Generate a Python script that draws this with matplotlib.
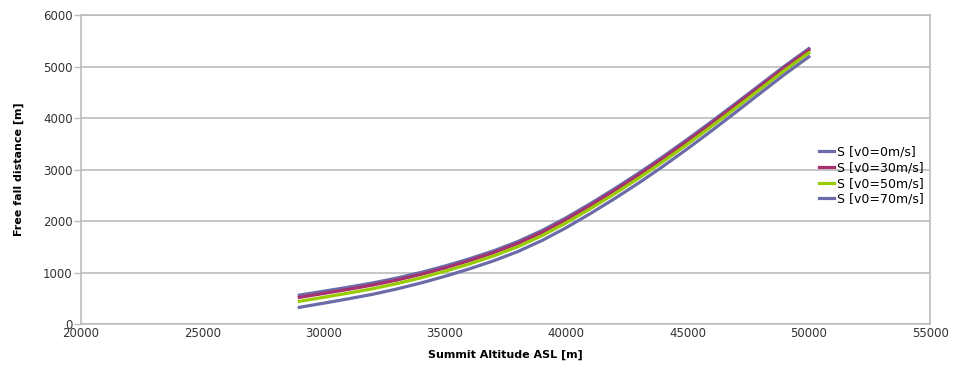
import numpy as np
import matplotlib.pyplot as plt

# summit altitude [m]
altitude = [29000, 30000, 31000, 32000, 33000, 34000, 35000, 36000, 37000, 38000, 39000,
            40000, 41000, 42000, 43000, 44000, 45000, 46000, 47000, 48000, 49000, 50000]

# free fall distance [m] for each initial velocity
s_v0_0 = [561, 636, 713, 795, 890, 1000, 1125, 1265, 1420, 1600, 1815,
          2065, 2340, 2630, 2935, 3255, 3590, 3935, 4290, 4650, 5010, 5350]
s_v0_30 = [517, 593, 671, 755, 851, 962, 1088, 1229, 1384, 1564, 1779,
           2029, 2304, 2594, 2900, 3220, 3556, 3902, 4258, 4619, 4980, 5321]
s_v0_50 = [440, 518, 598, 683, 782, 895, 1024, 1165, 1321, 1501, 1716,
           1966, 2241, 2532, 2837, 3159, 3496, 3844, 4202, 4565, 4927, 5268]
s_v0_70 = [323, 404, 487, 575, 678, 795, 926, 1069, 1226, 1406, 1621,
           1871, 2146, 2437, 2743, 3066, 3405, 3756, 4118, 4484, 4848, 5190]

labels = ["S [v0=0m/s]", "S [v0=30m/s]", "S [v0=50m/s]", "S [v0=70m/s]"]
colors = ["#6b6ba8", "#a8306e", "#99cc00", "#6b6ba8"]
series = [s_v0_0, s_v0_30, s_v0_50, s_v0_70]

x_ticks = np.arange(20000, 55001, 5000)
y_ticks = np.arange(0, 6001, 1000)

fig = plt.figure(figsize=(9.56, 3.68), dpi=100)
ax = fig.add_axes([0.0847, 0.1196, 0.8883, 0.8394])

for s, c, lab in zip(series, colors, labels):
    ax.plot(altitude, s, color=c, lw=2.3, label=lab, solid_joinstyle="round")

ax.set_xlim(20000, 55000)
ax.set_ylim(0, 6000)
ax.set_xticks(x_ticks)
ax.set_yticks(y_ticks)

grid_c = "#bcbcbc"
ax.yaxis.grid(True, color=grid_c, lw=1.2)
ax.set_axisbelow(True)
for sp in ax.spines.values():
    sp.set_color(grid_c)
    sp.set_linewidth(1.2)

ax.tick_params(axis="y", length=5, width=1.0, color=grid_c, labelsize=8.5, labelcolor="#333333", pad=1)
ax.tick_params(axis="x", length=0, labelsize=8.5, labelcolor="#333333", pad=2)

ax.set_xlabel("Summit Altitude ASL [m]", fontsize=8, fontweight="bold", labelpad=7)
ax.set_ylabel("Free fall distance [m]", fontsize=8, fontweight="bold", labelpad=14)

ax.legend(loc="center right", bbox_to_anchor=(0.998, 0.48), frameon=False, fontsize=9,
          handlelength=1.2, handletextpad=0.25, labelspacing=0.22, borderaxespad=0.0)

fig.savefig("out.png", dpi=100)
